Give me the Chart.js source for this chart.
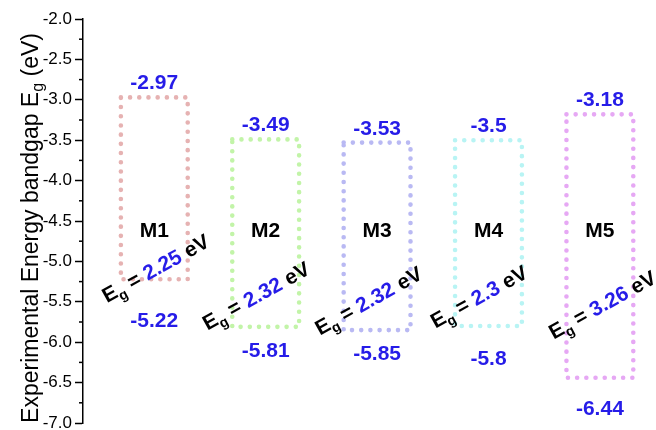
<!DOCTYPE html>
<html>
<head>
<meta charset="utf-8">
<script src="https://cdn.jsdelivr.net/npm/chart.js@4/dist/chart.umd.min.js"></script>
<style>
  html, body { margin: 0; padding: 0; background: #ffffff; }
  canvas { display: block; }
</style>
</head>
<body>
<canvas id="levels" width="656" height="430"></canvas>
<script>
// Band-edge energies (eV) for each material
const materials = ['M1', 'M2', 'M3', 'M4', 'M5'];
const upperLevels = [-2.97, -3.49, -3.53, -3.5, -3.18];
const lowerLevels = [-5.22, -5.81, -5.85, -5.8, -6.44];
const yTickValues = [-7.0, -6.5, -6.0, -5.5, -5.0, -4.5, -4.0, -3.5, -3.0, -2.5, -2.0];

// Styling and annotation layout
const boxColors = ['#e6b2b2', '#c2f4a8', '#b9b9f3', '#b8f4f4', '#e6a8f4'];
const valueBlue = '#261ce8';
const FONT = '"Liberation Sans", Arial, sans-serif';
const boxHalfWidth = 0.3;
const nameLevel = -4.63;                          // height of the "M" labels
const lowerLabelGap = [42, 24, 24, 33, 31];       // px below the lower edge
const gapLabelShift = [2, -9, -8, -9, 3];         // px shift from the box centre
const gapLabelLevel = [-5.1, -5.44, -5.5, -5.45, -5.55];
const gapLabelAngle = -29 * Math.PI / 180;
const AXIS_X = 83;

const fmt = v => String(Math.round(v * 100) / 100);

const datasets = materials.map((name, i) => {
  const c = i + 1, t = upperLevels[i], b = lowerLevels[i];
  return {
    label: name,
    data: [
      { x: c - boxHalfWidth, y: t }, { x: c + boxHalfWidth, y: t },
      { x: c + boxHalfWidth, y: b }, { x: c - boxHalfWidth, y: b },
      { x: c - boxHalfWidth, y: t }
    ],
    showLine: true,
    fill: false,
    borderColor: boxColors[i],
    borderWidth: 4.6,
    borderDash: [0, 9.2],
    borderCapStyle: 'round',
    borderJoinStyle: 'round',
    pointRadius: 0,
    tension: 0
  };
});

// Minor ticks, axis title and all annotations
const annotate = {
  id: 'annotate',
  afterDraw(chart) {
    const { ctx, scales: { x, y }, chartArea } = chart;
    ctx.save();

    // minor ticks between the labelled ones
    ctx.strokeStyle = '#000';
    ctx.lineWidth = 1.5;
    for (let k = 0; k < yTickValues.length - 1; k++) {
      const py = y.getPixelForValue((yTickValues[k] + yTickValues[k + 1]) / 2);
      ctx.beginPath();
      ctx.moveTo(chartArea.left - 4, py);
      ctx.lineTo(chartArea.left, py);
      ctx.stroke();
    }

    // y axis title with subscript
    ctx.save();
    ctx.translate(30, (chartArea.top + chartArea.bottom) / 2 + 7);
    ctx.rotate(-Math.PI / 2);
    ctx.fillStyle = '#000';
    ctx.textBaseline = 'alphabetic';
    const mainFont = '23px ' + FONT, subFont = '16px ' + FONT;
    const parts = [
      ['Experimental Energy bandgap E', mainFont, 0],
      ['g', subFont, 5],
      [' (eV)', mainFont, 0]
    ];
    let total = 0;
    parts.forEach(p => { ctx.font = p[1]; total += ctx.measureText(p[0]).width; });
    let cx = -total / 2;
    parts.forEach(p => {
      ctx.font = p[1];
      ctx.fillText(p[0], cx, 8 + p[2]);
      cx += ctx.measureText(p[0]).width;
    });
    ctx.restore();

    materials.forEach((name, i) => {
      const px = x.getPixelForValue(i + 1);
      const top = y.getPixelForValue(upperLevels[i]);
      const bot = y.getPixelForValue(lowerLevels[i]);

      ctx.textAlign = 'center';
      ctx.font = 'bold 21px ' + FONT;
      ctx.fillStyle = valueBlue;
      ctx.textBaseline = 'alphabetic';
      ctx.fillText(fmt(upperLevels[i]), px, top - 8);
      ctx.textBaseline = 'middle';
      ctx.fillText(fmt(lowerLevels[i]), px, bot + lowerLabelGap[i]);

      ctx.fillStyle = '#000';
      ctx.fillText(name, px, y.getPixelForValue(nameLevel));

      // rotated band gap label: E_g = value eV
      const gap = fmt(upperLevels[i] - lowerLevels[i]);
      const big = 'bold 21px ' + FONT, small = 'bold 14px ' + FONT;
      const seg = [
        ['E', big, '#000', 0],
        ['g', small, '#000', 7],
        [' = ', big, '#000', 0],
        [gap, big, valueBlue, 0],
        [' eV', big, '#000', 0]
      ];
      ctx.save();
      ctx.translate(px + gapLabelShift[i], y.getPixelForValue(gapLabelLevel[i]));
      ctx.rotate(gapLabelAngle);
      ctx.textAlign = 'left';
      ctx.textBaseline = 'middle';
      let w = 0;
      seg.forEach(s => { ctx.font = s[1]; w += ctx.measureText(s[0]).width; });
      let sx = -w / 2;
      seg.forEach(s => {
        ctx.font = s[1];
        ctx.fillStyle = s[2];
        ctx.fillText(s[0], sx, s[3]);
        sx += ctx.measureText(s[0]).width;
      });
      ctx.restore();
    });

    ctx.restore();
  }
};

new Chart(document.getElementById('levels'), {
  type: 'scatter',
  data: { datasets },
  options: {
    responsive: false,
    animation: false,
    layout: { padding: { left: 0, right: 6, top: 19, bottom: 7 } },
    plugins: { legend: { display: false }, tooltip: { enabled: false } },
    scales: {
      x: { type: 'linear', display: false, min: 0.36, max: 5.45 },
      y: {
        type: 'linear',
        min: -7,
        max: -2,
        afterFit(scale) {
          scale.width = AXIS_X;
          scale.paddingTop = 0;
          scale.paddingBottom = 0;
        },
        afterBuildTicks(scale) {
          scale.ticks = yTickValues.map(v => ({ value: v }));
        },
        ticks: {
          color: '#000',
          padding: 3,
          font: { family: FONT, size: 17 },
          callback: v => Number(v).toFixed(1)
        },
        grid: {
          drawOnChartArea: false,
          drawTicks: true,
          tickLength: 8,
          tickWidth: 1.5,
          tickColor: '#000'
        },
        border: { display: true, color: '#000', width: 1.5 }
      }
    }
  },
  plugins: [annotate]
});
</script>
</body>
</html>
